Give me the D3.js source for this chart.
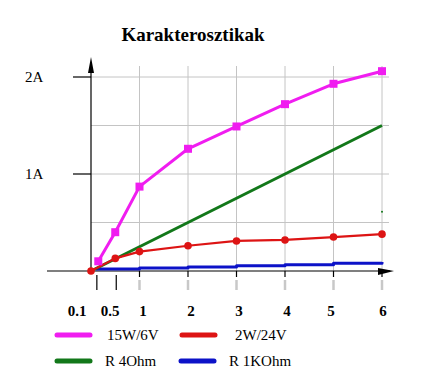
<!DOCTYPE html>
<html>
<head>
    <meta charset="utf-8">
    <title>Karakterosztikak</title>
    <style>
        body { margin: 0; background: #fff; }
        .line { fill: none; stroke-linejoin: round; }
    </style>
    <script src="https://d3js.org/d3.v7.min.js"></script>
</head>
<body>
<script>
    // data
    var xTicks = [0.1, 0.5, 1, 2, 3, 4, 5, 6];
    var xTickLabels = ["0.1", "0.5", "1", "2", "3", "4", "5", "6"];
    var yTicks = [1, 2];
    var yTickLabels = ["1A", "2A"];

    var lampX = [0.15, 0.5, 1, 2, 3, 4, 5, 6];
    var lamp15W = [0.10, 0.40, 0.87, 1.26, 1.49, 1.72, 1.93, 2.06];

    var smallX = [0, 0.5, 1, 2, 3, 4, 5, 6];
    var lamp2W = [0, 0.13, 0.20, 0.26, 0.31, 0.32, 0.35, 0.38];

    var r4X = [0, 6];
    var r4 = [0, 1.5];

    var r1kX = [0.1, 1, 2, 3, 4, 5, 6];
    var r1k = [0.02, 0.03, 0.04, 0.055, 0.065, 0.08, 0.094];

    var seriesNames = ["15W/6V", "2W/24V", "R 4Ohm", "R 1KOhm"];
    var seriesColors = ["#f01df0", "#dd1414", "#12781a", "#0c12c8"];

    var serif = "Liberation Serif";

    var w = 434, h = 385;
    var svg = d3.select("body").append("svg")
        .attr("width", w)
        .attr("height", h);

    var x = d3.scaleLinear().domain([0, 6]).range([91, 382]);
    var y = d3.scaleLinear().domain([0, 2]).range([271, 77]);

    // title
    svg.append("text")
        .attr("x", 193).attr("y", 41)
        .attr("text-anchor", "middle")
        .style("font-family", serif)
        .style("font-size", "19px")
        .style("font-weight", "bold")
        .text("Karakterosztikak");

    // grid
    var grid = svg.append("g").attr("stroke", "#c4c4c4").attr("stroke-width", 1);
    grid.selectAll(".gx")
        .data([1, 2, 3, 4, 5, 6])
        .enter().append("line")
        .attr("x1", function (d) { return x(d); })
        .attr("x2", function (d) { return x(d); })
        .attr("y1", 66).attr("y2", y(0));
    grid.selectAll(".gy")
        .data([0.5, 1, 1.5, 2])
        .enter().append("line")
        .attr("x1", x(0)).attr("x2", 389)
        .attr("y1", function (d) { return y(d); })
        .attr("y2", function (d) { return y(d); });

    // gray dashes under axis
    svg.append("g").selectAll("line")
        .data([1, 2, 3, 4, 5, 6])
        .enter().append("line")
        .attr("x1", function (d) { return x(d); })
        .attr("x2", function (d) { return x(d); })
        .attr("y1", 280).attr("y2", 290)
        .attr("stroke", "#c8c8c8").attr("stroke-width", 2.5);

    // axes
    var axes = svg.append("g").attr("stroke", "#000").attr("stroke-width", 1.2);
    axes.append("line")
        .attr("x1", x(0)).attr("x2", x(0))
        .attr("y1", 62).attr("y2", y(0));
    axes.append("line")
        .attr("x1", 47).attr("x2", 390)
        .attr("y1", y(0)).attr("y2", y(0));
    axes.selectAll(".yt")
        .data(yTicks)
        .enter().append("line")
        .attr("x1", 73).attr("x2", x(0))
        .attr("y1", function (d) { return y(d); })
        .attr("y2", function (d) { return y(d); });
    axes.selectAll(".xt")
        .data([1, 2, 3, 4, 5, 6])
        .enter().append("line")
        .attr("x1", function (d) { return x(d); })
        .attr("x2", function (d) { return x(d); })
        .attr("y1", y(0)).attr("y2", y(0) + 6);
    axes.selectAll(".xs")
        .data([0.1, 0.5])
        .enter().append("line")
        .attr("x1", function (d) { return x(d) + 1; })
        .attr("x2", function (d) { return x(d) + 1; })
        .attr("y1", y(0) + 4).attr("y2", y(0) + 19);

    // arrow heads
    svg.append("path")
        .attr("d", "M" + x(0) + ",57 L" + (x(0) - 3) + ",73 L" + (x(0) + 3) + ",73 Z")
        .attr("fill", "#000");
    svg.append("path")
        .attr("d", "M394," + y(0) + " L378," + (y(0) - 3) + " L378," + (y(0) + 4) + " Z")
        .attr("fill", "#000");

    // tick labels
    svg.selectAll(".ylab")
        .data(yTicks)
        .enter().append("text")
        .attr("x", 25)
        .attr("y", function (d) { return y(d) + 5; })
        .style("font-family", serif)
        .style("font-size", "15px")
        .text(function (d, i) { return yTickLabels[i]; });

    var labelX = [77, 110, 143, 191, 239, 287, 331, 383];
    svg.selectAll(".xlab")
        .data(xTicks)
        .enter().append("text")
        .attr("x", function (d, i) { return labelX[i]; })
        .attr("y", 316)
        .attr("text-anchor", "middle")
        .style("font-family", serif)
        .style("font-size", "15px")
        .style("font-weight", "bold")
        .text(function (d, i) { return xTickLabels[i]; });

    // series
    function pts(xs, ys) {
        return xs.map(function (v, i) { return [v, ys[i]]; });
    }
    var line = d3.line()
        .x(function (d) { return x(d[0]); })
        .y(function (d) { return y(d[1]); });
    var stepLine = d3.line()
        .x(function (d) { return x(d[0]); })
        .y(function (d) { return y(d[1]); })
        .curve(d3.curveStepAfter);

    svg.append("path").attr("class", "line")
        .attr("d", stepLine(pts(r1kX, r1k)))
        .attr("stroke", seriesColors[3]).attr("stroke-width", 3);

    svg.append("path").attr("class", "line")
        .attr("d", line(pts(r4X, r4)))
        .attr("stroke", seriesColors[2]).attr("stroke-width", 3);

    svg.append("path").attr("class", "line")
        .attr("d", line(pts(smallX, lamp2W)))
        .attr("stroke", seriesColors[1]).attr("stroke-width", 2.2);
    svg.selectAll(".rdot")
        .data(pts(smallX, lamp2W))
        .enter().append("circle")
        .attr("cx", function (d) { return x(d[0]); })
        .attr("cy", function (d) { return y(d[1]); })
        .attr("r", 3.8)
        .attr("fill", seriesColors[1]);

    svg.append("path").attr("class", "line")
        .attr("d", line(pts(lampX, lamp15W)))
        .attr("stroke", seriesColors[0]).attr("stroke-width", 3);
    svg.selectAll(".msq")
        .data(pts(lampX, lamp15W))
        .enter().append("rect")
        .attr("x", function (d) { return x(d[0]) - 4; })
        .attr("y", function (d) { return y(d[1]) - 4; })
        .attr("width", 8).attr("height", 8)
        .attr("fill", seriesColors[0]);

    // stray green dot
    svg.append("circle")
        .attr("cx", x(6)).attr("cy", y(0.61))
        .attr("r", 1).attr("fill", seriesColors[2]);

    // legend
    var legX = [57, 182, 57, 181];
    var legY = [335, 335, 361, 361];
    var legTextX = [107, 235, 105, 229];
    var leg = svg.append("g");
    leg.selectAll("line")
        .data(seriesNames)
        .enter().append("line")
        .attr("x1", function (d, i) { return legX[i]; })
        .attr("x2", function (d, i) { return legX[i] + 33; })
        .attr("y1", function (d, i) { return legY[i]; })
        .attr("y2", function (d, i) { return legY[i]; })
        .attr("stroke", function (d, i) { return seriesColors[i]; })
        .attr("stroke-width", 5)
        .attr("stroke-linecap", "round");
    leg.selectAll("text")
        .data(seriesNames)
        .enter().append("text")
        .attr("x", function (d, i) { return legTextX[i]; })
        .attr("y", function (d, i) { return legY[i] + 5; })
        .style("font-family", serif)
        .style("font-size", "15px")
        .text(function (d) { return d; });
</script>
</body>
</html>
